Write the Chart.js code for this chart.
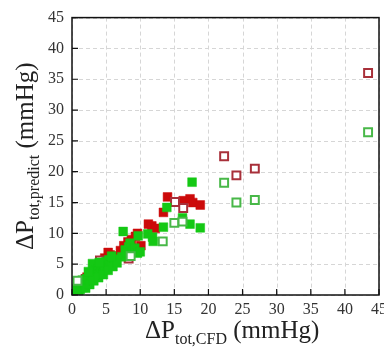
<!DOCTYPE html>
<html>
<head>
<meta charset="utf-8">
<script src="https://cdn.jsdelivr.net/npm/chart.js@4"></script>
<style>
  html, body { margin: 0; padding: 0; background: #fff; overflow: hidden; }
  #wrap { width: 392px; height: 349px; }
</style>
</head>
<body>
<div id="wrap"><canvas id="c"></canvas></div>
<script>
// ---- data ----
const xTicks = [0, 5, 10, 15, 20, 25, 30, 35, 40, 45];
const yTicks = [0, 5, 10, 15, 20, 25, 30, 35, 40, 45];

const redFilled = [
  [0.4,0.5],[1.0,1.2],[1.6,2.0],[2.2,2.9],[2.7,3.6],[3.2,4.2],[3.7,4.6],[4.3,5.3],
  [4.8,6.0],[5.3,6.9],[5.6,6.5],[6.2,6.3],[7.1,7.2],[7.6,8.0],[8.2,8.6],[8.7,9.0],
  [9.3,9.5],[9.6,10.0],[10.1,8.0],[11.2,11.5],[11.7,11.2],[12.2,10.8],[13.4,13.4],
  [14.0,15.9],[16.3,15.3],[17.3,15.6],[17.7,15.0],[18.8,14.6]
];
const redHollow = [
  [2.0,2.6],[4.1,5.6],[8.3,5.9],[15.1,15.1],[16.3,14.1],[22.3,22.5],[24.1,19.4],
  [26.8,20.5],[43.4,36.0]
];
const greenFilled = [
  [0.1,0.1],[0.3,0.5],[0.5,0.3],[0.7,0.9],[0.9,0.6],[1.1,1.3],[1.2,0.9],[1.4,1.7],
  [1.6,1.2],[1.8,2.0],[1.9,1.5],[2.1,2.6],[2.3,1.9],[2.5,3.1],[2.6,2.4],[2.8,3.3],
  [2.9,2.7],[3.0,5.1],[3.1,3.6],[3.3,2.9],[3.5,4.0],[3.6,3.2],[3.8,4.3],[4.0,3.4],
  [4.2,4.6],[4.4,3.8],[4.6,4.9],[4.8,4.2],[5.0,5.4],[5.2,4.6],[5.4,5.7],[5.6,5.0],
  [5.9,5.4],[6.2,5.8],[7.3,6.2],[7.5,10.3],[7.8,7.3],[8.0,6.9],[8.3,7.8],[8.5,8.4],
  [8.8,7.2],[9.2,7.6],[9.7,9.6],[9.6,6.8],[10.0,7.0],[11.1,9.9],[11.8,9.4],[11.9,8.7],
  [13.4,11.0],[13.9,14.2],[16.2,12.5],[17.3,11.5],[17.6,18.3],[18.8,10.9],
  [0.4,1.0],[1.0,0.4],[1.5,2.4],[2.0,1.1],[2.6,1.7],[3.2,2.3],[3.9,2.8],[4.6,3.3],
  [5.3,4.0],[6.0,4.6],[6.6,5.2],[2.4,3.8],[4.0,5.3],[5.8,6.3]
];
const greenHollow = [
  [0.8,2.3],[8.6,6.3],[13.3,8.7],[15.0,11.7],[16.2,11.9],[22.3,18.2],[24.1,15.0],
  [26.8,15.4],[43.4,26.4]
];

const xTitle = ['ΔP', 'tot,CFD', ' (mmHg)'];
const yTitle = ['ΔP', 'tot,predict', ' (mmHg)'];

// ---- chart ----
const toPts = arr => arr.map(p => ({x: p[0], y: p[1]}));
const SERIF = '"Liberation Serif", "Times New Roman", serif';

const framePlugin = {
  id: 'frame',
  beforeDatasetsDraw(chart) {
    const {ctx, chartArea: a, scales} = chart;
    ctx.save();
    ctx.strokeStyle = '#d6d6d6';
    ctx.lineWidth = 1;
    ctx.setLineDash([4, 3]);
    ctx.beginPath();
    xTicks.forEach(v => {
      const px = Math.round(scales.x.getPixelForValue(v)) + 0.5;
      ctx.moveTo(px, a.top); ctx.lineTo(px, a.bottom);
    });
    yTicks.forEach(v => {
      const py = Math.round(scales.y.getPixelForValue(v)) + 0.5;
      ctx.moveTo(a.left, py); ctx.lineTo(a.right, py);
    });
    ctx.stroke();
    ctx.restore();
  },
  afterDatasetsDraw(chart) {
    const {ctx, chartArea: a, scales} = chart;
    ctx.save();
    ctx.strokeStyle = '#111';
    ctx.lineWidth = 1.5;
    ctx.strokeRect(a.left, a.top, a.right - a.left, a.bottom - a.top);
    ctx.lineWidth = 1.2;
    ctx.beginPath();
    xTicks.forEach(v => {
      const px = scales.x.getPixelForValue(v);
      ctx.moveTo(px, a.bottom); ctx.lineTo(px, a.bottom - 6);
    });
    yTicks.forEach(v => {
      const py = scales.y.getPixelForValue(v);
      ctx.moveTo(a.left, py); ctx.lineTo(a.left + 6, py);
    });
    ctx.stroke();
    ctx.restore();
  },
  afterDraw(chart) {
    const {ctx} = chart;
    const big = '25px ' + SERIF, small = '16px ' + SERIF;
    ctx.save();
    ctx.fillStyle = '#222';
    ctx.textBaseline = 'alphabetic';
    ctx.textAlign = 'left';
    // x title
    let x = 145, base = 338;
    ctx.font = big; ctx.fillText(xTitle[0], x, base); x += ctx.measureText(xTitle[0]).width;
    ctx.font = small; ctx.fillText(xTitle[1], x, base + 6); x += ctx.measureText(xTitle[1]).width;
    ctx.font = big; ctx.fillText(xTitle[2], x, base);
    // y title (rotated)
    ctx.translate(33, 250);
    ctx.rotate(-Math.PI / 2);
    x = 0;
    ctx.font = big; ctx.fillText(yTitle[0], x, 0); x += ctx.measureText(yTitle[0]).width;
    ctx.font = small; ctx.fillText(yTitle[1], x, 6); x += ctx.measureText(yTitle[1]).width;
    ctx.font = big; ctx.fillText(yTitle[2], x, 0);
    ctx.restore();
  }
};

const filled = (data, color, order) => ({
  data: toPts(data), order,
  pointStyle: 'rect', pointRadius: 6.2, pointHoverRadius: 6.2,
  backgroundColor: color, borderColor: color, borderWidth: 0.5, showLine: false
});
const hollow = (data, color, order) => ({
  data: toPts(data), order,
  pointStyle: 'rect', pointRadius: 5.6, pointHoverRadius: 5.6,
  backgroundColor: '#ffffff', borderColor: color, borderWidth: 2, showLine: false
});

new Chart(document.getElementById('c'), {
  type: 'scatter',
  data: {
    datasets: [
      filled(redFilled, '#cc0a0a', 4),
      hollow(redHollow, '#a8303a', 3),
      filled(greenFilled, '#14c814', 2),
      hollow(greenHollow, '#48b848', 1)
    ]
  },
  options: {
    responsive: true,
    maintainAspectRatio: false,
    animation: false,
    events: [],
    layout: { padding: { top: 15, right: 0, left: 0, bottom: 0 } },
    plugins: { legend: { display: false }, tooltip: { enabled: false } },
    scales: {
      x: {
        type: 'linear', min: 0, max: 45,
        afterBuildTicks: s => { s.ticks = xTicks.map(v => ({value: v})); },
        afterFit: s => { s.height = 54; },
        ticks: { font: { family: SERIF, size: 16 }, color: '#333', padding: 5, maxRotation: 0 },
        grid: { display: false, drawTicks: false },
        border: { display: false }
      },
      y: {
        type: 'linear', min: 0, max: 45,
        afterBuildTicks: s => { s.ticks = yTicks.map(v => ({value: v})); },
        afterFit: s => { s.width = 72; },
        ticks: { font: { family: SERIF, size: 16 }, color: '#333', padding: 8 },
        grid: { display: false, drawTicks: false },
        border: { display: false }
      }
    }
  },
  plugins: [framePlugin]
});
</script>
</body>
</html>
